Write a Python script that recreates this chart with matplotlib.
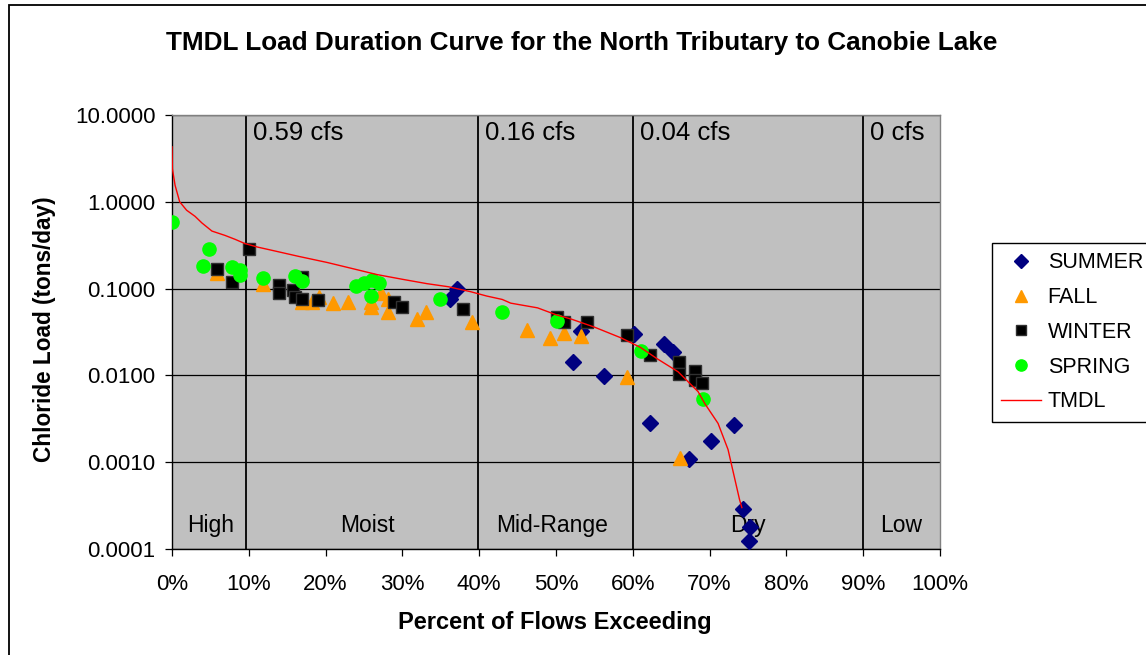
import matplotlib
matplotlib.use("Agg")
import matplotlib.pyplot as plt
from matplotlib.patches import Rectangle
from matplotlib.ticker import FixedLocator, NullLocator, FuncFormatter

plt.rcParams['font.family'] = ['Liberation Sans', 'DejaVu Sans']

# ---------------- data ----------------
summer_x = [37.1, 36.2, 53.3, 52.2, 56.2, 60.2, 64.1, 65.2, 62.3, 70.2, 73.2, 67.3, 74.3, 75.3, 75.1]
summer_y = [0.100, 0.075, 0.0325, 0.0142, 0.0099, 0.0297, 0.023, 0.0188, 0.0028, 0.00175, 0.0027,
            0.00108, 0.00029, 0.00018, 0.000125]

fall_x = [5.9, 11.9, 16.9, 18.2, 19.1, 21.0, 22.9, 25.9, 25.9, 27.2, 28.1, 28.1, 31.9, 33.1, 39.0,
          46.2, 49.2, 51.1, 53.3, 59.2, 66.1]
fall_y = [0.15, 0.114, 0.070, 0.070, 0.080, 0.068, 0.070, 0.070, 0.062, 0.088, 0.075, 0.054, 0.045,
          0.054, 0.041, 0.0333, 0.0267, 0.0305, 0.0287, 0.0097, 0.00111]

winter_x = [10.0, 5.9, 7.8, 16.9, 13.9, 13.9, 15.8, 16.0, 16.9, 19.0, 28.9, 30.0, 37.9, 50.1, 51.1,
            54.0, 59.2, 62.2, 66.0, 66.0, 68.1, 68.1, 69.0]
winter_y = [0.286, 0.167, 0.118, 0.137, 0.110, 0.088, 0.096, 0.081, 0.075, 0.073, 0.0695, 0.061,
            0.058, 0.047, 0.041, 0.0416, 0.029, 0.0172, 0.0144, 0.0103, 0.0112, 0.0089, 0.0082]

spring_x = [0.0, 4.8, 4.0, 7.8, 8.9, 8.9, 11.9, 16.0, 16.9, 24.0, 25.0, 26.0, 27.0, 25.9, 34.9,
            43.0, 50.1, 61.1, 69.1]
spring_y = [0.59, 0.284, 0.184, 0.176, 0.162, 0.145, 0.134, 0.141, 0.122, 0.108, 0.115, 0.126,
            0.115, 0.083, 0.076, 0.054, 0.042, 0.019, 0.0053]

tmdl_x = [0.0, 0.05, 0.4, 1.0, 1.9, 3.0, 3.9, 5.2, 6.9, 8.2, 9.5, 11.2, 13.5, 16.5, 20.2, 23.5,
          26.7, 30.0, 33.2, 36.0, 38.9, 41.0, 43.0, 44.1, 47.6, 50.0, 52.0, 55.0, 58.5, 61.0,
          63.1, 65.9, 68.5, 69.4, 71.1, 72.4, 73.9, 74.2]
tmdl_y = [4.3, 2.4, 1.55, 1.0, 0.80, 0.68, 0.57, 0.46, 0.41, 0.37, 0.33, 0.30, 0.27, 0.235, 0.20,
          0.17, 0.145, 0.128, 0.114, 0.105, 0.092, 0.082, 0.075, 0.068, 0.060, 0.050, 0.0445,
          0.036, 0.027, 0.021, 0.0157, 0.011, 0.0065, 0.0047, 0.0028, 0.0014, 0.00037, 0.0003]

y_ticks = [0.0001, 0.001, 0.01, 0.1, 1.0, 10.0]
x_ticks = [0, 10, 20, 30, 40, 50, 60, 70, 80, 90, 100]

zone_bounds = [9.6, 39.8, 60.0, 90.0]
flow_labels = ["0.59 cfs", "0.16 cfs", "0.04 cfs", "0 cfs"]
zone_names = ["High", "Moist", "Mid-Range", "Dry", "Low"]
zone_centers = [5, 25.5, 49.5, 75, 95]

# ---------------- figure ----------------
W, H = 1146, 655
fig = plt.figure(figsize=(W / 100, H / 100), dpi=100)
fig.patch.set_facecolor('white')

L, R, T, B = 172, 940, 115, 549
ax = fig.add_axes([L / W, 1 - B / H, (R - L) / W, (B - T) / H])
ax.set_facecolor('#C0C0C0')
ax.set_yscale('log')
ax.set_xlim(0, 100)
ax.set_ylim(1e-4, 10)

ax.yaxis.set_major_locator(FixedLocator(y_ticks))
ax.yaxis.set_minor_locator(NullLocator())
ax.yaxis.set_major_formatter(FuncFormatter(lambda v, p: f"{v:.4f}"))
ax.xaxis.set_major_locator(FixedLocator(x_ticks))
ax.xaxis.set_major_formatter(FuncFormatter(lambda v, p: f"{v:.0f}%"))

ax.yaxis.grid(True, color='black', lw=0.9)
ax.set_axisbelow(True)

for s in ['left', 'bottom']:
    ax.spines[s].set_color('black')
    ax.spines[s].set_linewidth(1.0)
for s in ['top', 'right']:
    ax.spines[s].set_color('#808080')
    ax.spines[s].set_linewidth(1.0)

ax.tick_params(axis='y', direction='out', length=5, width=0.9, pad=7, labelsize=16)
ax.tick_params(axis='x', direction='out', length=5, width=0.9, pad=13, labelsize=16)

for xb in zone_bounds:
    ax.axvline(xb, color='black', lw=1.3, zorder=1.5)

for xb, lab in zip(zone_bounds, flow_labels):
    ax.text(xb + 0.9, 0.958, lab, transform=ax.get_xaxis_transform(), ha='left', va='center',
            fontsize=18.5)
for xc, lab in zip(zone_centers, zone_names):
    ax.text(xc, 0.055, lab, transform=ax.get_xaxis_transform(), ha='center', va='center',
            fontsize=16.5)

h1, = ax.plot(summer_x, summer_y, linestyle='none', marker='D', ms=8.5, color='#000080',
              markeredgecolor='#000080', label='SUMMER', zorder=3)
h2, = ax.plot(fall_x, fall_y, linestyle='none', marker='^', ms=10, color='#FF9900',
              markeredgecolor='#FF9900', label='FALL', zorder=3)
h3, = ax.plot(winter_x, winter_y, linestyle='none', marker='s', ms=9, color='black',
              markeredgecolor='#303030', label='WINTER', zorder=3)
h4, = ax.plot(spring_x, spring_y, linestyle='none', marker='o', ms=9.5, color='#00FF00',
              markeredgecolor='#00FF00', label='SPRING', zorder=3)
h5, = ax.plot(tmdl_x, tmdl_y, color='#FF0000', lw=1.0, label='TMDL', zorder=4)

leg = ax.legend(handles=[h1, h2, h3, h4, h5], loc='upper left',
                bbox_to_anchor=(991.7 / W, 1 - 242.7 / H), bbox_transform=fig.transFigure,
                fontsize=15.5, frameon=True, fancybox=False, framealpha=1, edgecolor='black',
                borderaxespad=0, borderpad=0.45, handlelength=1.85, handletextpad=0.3,
                labelspacing=0.64, markerscale=0.85)
leg.get_frame().set_linewidth(1.0)

fig.text(582 / W, 1 - 43 / H, "TMDL Load Duration Curve for the North Tributary to Canobie Lake",
         ha='center', va='center', fontsize=18.8, fontweight='bold')
fig.text(45 / W, 1 - 329 / H, "Chloride Load (tons/day)", rotation=90, ha='center', va='center',
         fontsize=16.3, fontweight='bold')
fig.text(555 / W, 1 - 623 / H, "Percent of Flows Exceeding", ha='center', va='center',
         fontsize=17, fontweight='bold')

fig.patches.append(Rectangle((9 / W, -0.1), 1.2, 1.1 - 5 / H, transform=fig.transFigure,
                             fill=False, edgecolor='black', lw=1.3))

fig.savefig('out.png', dpi=100)
